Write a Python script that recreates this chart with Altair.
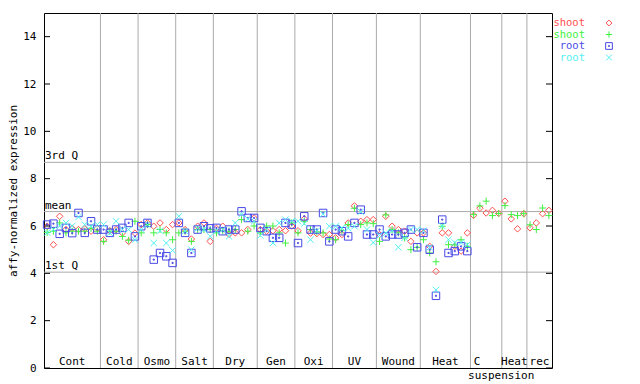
import altair as alt
import pandas as pd

# ---------------- data ----------------
group_labels = ["Cont", "Cold", "Osmo", "Salt", "Dry", "Gen", "Oxi", "UV",
                "Wound", "Heat", "C", "Heat", "rec"]
group_sublabels = ["", "", "", "", "", "", "", "", "", "", "suspension", "", ""]

shoot_red = [
    [5.99, 5.21, 6.41, 5.85, 5.90, 5.85, 5.88, 5.78, 5.90],
    [5.42, 5.80, 5.85, 5.71, 5.35, 5.70],
    [6.06, 6.13, 5.99, 6.13, 5.85, 6.06],
    [6.13, 5.85, 5.45, 5.99, 6.13, 5.35],
    [5.90, 5.99, 5.65, 5.71, 5.71, 5.85, 6.34],
    [5.85, 5.78, 5.80, 5.85, 5.80, 6.00],
    [5.80, 6.30, 5.70, 5.68, 5.64, 5.64],
    [5.50, 5.64, 6.13, 6.85, 6.20, 6.27, 6.27],
    [5.64, 6.41, 5.99, 5.85, 5.78, 5.35, 5.71],
    [5.71, 5.14, 4.08, 5.71, 5.71, 5.14, 4.94, 5.71],
    [6.45, 6.75, 6.55, 6.66, 6.53],
    [7.05, 6.30, 5.88, 6.52],
    [5.92, 6.13, 6.52, 6.66],
]
shoot_green = [
    [5.73, 5.78, 6.13, 5.71, 5.78, 5.78, 5.78, 5.90, 5.78],
    [5.35, 5.78, 5.78, 5.56, 5.40, 6.20],
    [5.71, 6.06, 5.71, 5.85, 5.71, 5.42],
    [5.71, 5.78, 5.35, 5.85, 5.85, 5.85],
    [5.71, 5.80, 5.78, 5.85, 6.27, 5.78, 6.00],
    [5.71, 6.00, 6.00, 5.71, 5.28, 6.13],
    [5.71, 6.20, 5.85, 5.75, 5.71, 5.45],
    [5.42, 5.80, 6.06, 6.75, 6.06, 6.13, 6.10],
    [5.35, 6.47, 5.85, 5.71, 5.50, 5.00, 5.10],
    [5.42, 4.86, 4.49, 5.99, 5.21, 5.20, 5.42, 5.14],
    [6.48, 6.85, 7.05, 6.44, 6.53],
    [6.86, 6.48, 6.44, 6.52],
    [6.05, 5.85, 6.76, 6.44],
]
root_blue = [
    [6.06, 6.10, 5.67, 5.92, 5.70, 6.55, 5.71, 6.20, 5.85],
    [5.85, 5.71, 5.85, 5.92, 6.13, 5.56],
    [5.99, 6.13, 4.58, 4.86, 4.72, 4.44],
    [6.13, 5.71, 4.86, 5.85, 5.99, 5.90],
    [5.92, 5.78, 5.85, 5.85, 6.62, 6.34, 6.34],
    [5.92, 5.78, 5.50, 5.50, 6.13, 6.06],
    [5.28, 6.41, 5.85, 5.85, 6.55, 5.35],
    [5.85, 5.78, 5.56, 6.13, 6.69, 5.64, 5.64],
    [5.85, 5.56, 5.64, 5.64, 5.71, 5.85, 5.10],
    [5.71, 5.00, 3.05, 6.27, 4.86, 4.94, 5.14, 4.94],
    [], [], [],
]
root_cyan = [
    [5.72, 5.85, 6.00, 6.13, 6.00, 6.38, 6.06, 5.99, 6.06],
    [6.06, 5.71, 6.20, 5.85, 5.85, 5.42],
    [5.85, 6.06, 5.28, 5.80, 5.28, 4.97],
    [6.41, 5.78, 5.00, 5.90, 5.85, 5.56],
    [5.80, 5.85, 5.56, 6.13, 6.50, 6.30, 6.20],
    [5.60, 5.85, 5.28, 6.13, 6.27, 6.20],
    [6.20, 6.10, 5.42, 5.80, 6.50, 5.99],
    [5.99, 5.92, 5.90, 5.99, 6.60, 5.85, 5.30],
    [5.60, 5.70, 5.80, 5.10, 5.50, 5.85, 5.85],
    [5.80, 5.10, 3.30, 6.00, 5.42, 5.30, 5.30, 5.21],
    [], [], [],
]

ref_labels = ["3rd Q", "mean", "1st Q"]
ref_values = [8.69, 6.61, 4.05]
y_ticks = [0, 2, 4, 6, 8, 10, 12, 14]

series_names = ["shoot", "shoot", "root", "root"]
series_colors = ["#ff5050", "#40f040", "#4848e8", "#50f0f0"]
series_values = [shoot_red, shoot_green, root_blue, root_cyan]

# ---------------- tables ----------------
counts = [len(g) for g in shoot_red]
offsets = [sum(counts[:i]) for i in range(len(counts))]
n_slots = sum(counts)

shapes = [
    "M0,-1L1,0L0,1L-1,0Z",
    "M-1,0L1,0M0,-1L0,1",
    "M-1,-1L1,-1L1,1L-1,1ZM-0.15,-0.15L0.15,-0.15L0.15,0.15L-0.15,0.15Z",
    "M-1,-1L1,1M-1,1L1,-1",
]
sizes = [42, 49, 56, 40]

W, H = 508, 355
xs = alt.Scale(domain=[0, n_slots], nice=False, zero=False)
ys = alt.Scale(domain=[0, 15], nice=False, zero=True)
FONT = "DejaVu Sans Mono"

y_axis = alt.Axis(values=y_ticks, title="affy-normalized expression",
                  domain=False, ticks=False, tickSize=0, grid=False,
                  labelFont=FONT, labelFontSize=11, labelColor="black",
                  labelPadding=8, titleFont=FONT, titleFontSize=11,
                  titleFontWeight="normal", titleColor="black",
                  titlePadding=4)


def Y(field):
    return alt.Y(field, scale=ys, axis=y_axis)


def X(field):
    return alt.X(field, scale=xs, axis=None)


bounds = pd.DataFrame({"b": offsets[1:]})
vlines = alt.Chart(bounds).mark_rule(color="#aaaaaa", strokeWidth=1).encode(
    x=X("b:Q"))

refs = pd.DataFrame({"label": ref_labels, "v": ref_values})
hlines = alt.Chart(refs).mark_rule(color="#aaaaaa", strokeWidth=1).encode(
    y=Y("v:Q"))
hlabels = alt.Chart(refs).mark_text(
    font=FONT, fontSize=11, align="left", baseline="alphabetic", dx=1, dy=-3,
    color="black").encode(
    x=alt.value(0), y=Y("v:Q"), text="label:N")

layers = [vlines, hlines, hlabels]

for si in range(4):
    rows = []
    for gi, vals in enumerate(series_values[si]):
        for j, v in enumerate(vals):
            rows.append({"x": offsets[gi] + j + 0.5, "v": v})
    df = pd.DataFrame(rows)
    layers.append(
        alt.Chart(df).mark_point(
            shape=shapes[si], size=sizes[si], filled=False,
            color=series_colors[si], strokeWidth=1, opacity=1).encode(
            x=X("x:Q"), y=Y("v:Q")))

# inward ticks on both sides
ticks = pd.DataFrame({"t": y_ticks})
tick_left = alt.Chart(ticks).mark_rule(color="black", strokeWidth=1).encode(
    y=Y("t:Q"), x=alt.value(0), x2=alt.value(6))
tick_right = alt.Chart(ticks).mark_rule(color="black", strokeWidth=1).encode(
    y=Y("t:Q"), x=alt.value(W - 6), x2=alt.value(W))
layers += [tick_left, tick_right]

# group labels
glab = pd.DataFrame({
    "label": group_labels, "sub": group_sublabels,
    "c": [o + c / 2 for o, c in zip(offsets, counts)]})
lab1 = alt.Chart(glab).mark_text(
    font=FONT, fontSize=11, align="center", baseline="alphabetic", dy=-3,
    color="black").encode(
    x=X("c:Q"), y=alt.value(H), text="label:N"
).transform_filter("datum.sub == ''")
lab1c = alt.Chart(glab).mark_text(
    font=FONT, fontSize=11, align="center", baseline="alphabetic", dy=-3, dx=-9,
    color="black").encode(
    x=X("c:Q"), y=alt.value(H), text="label:N"
).transform_filter("datum.sub != ''")
lab2 = alt.Chart(glab).mark_text(
    font=FONT, fontSize=11, align="center", baseline="alphabetic", dy=10.5, dx=15,
    color="black").encode(
    x=X("c:Q"), y=alt.value(H), text="sub:N"
).transform_filter("datum.sub != ''")
layers += [lab1, lab1c, lab2]

# legend (manual)
leg_df = pd.DataFrame({"k": [0]})
for i in range(4):
    ly = 10 + i * 11.5
    layers.append(alt.Chart(leg_df).mark_text(
        font=FONT, fontSize=10.5, align="right", baseline="middle",
        color=series_colors[i], text=series_names[i]).encode(
        x=alt.value(W + 33), y=alt.value(ly)))
    layers.append(alt.Chart(leg_df).mark_point(
        shape=shapes[i], size=sizes[i] * 0.8, filled=False,
        color=series_colors[i], strokeWidth=1, opacity=1).encode(
        x=alt.value(W + 57), y=alt.value(ly)))

chart = alt.layer(*layers).properties(
    width=W, height=H,
    autosize=alt.AutoSizeParams(type="none"),
    padding={"left": 36, "top": 5, "right": 80, "bottom": 13},
    background="white",
).configure_view(stroke="black", strokeWidth=1)

chart.save("out.html", embed_options={"renderer": "svg", "actions": False})
